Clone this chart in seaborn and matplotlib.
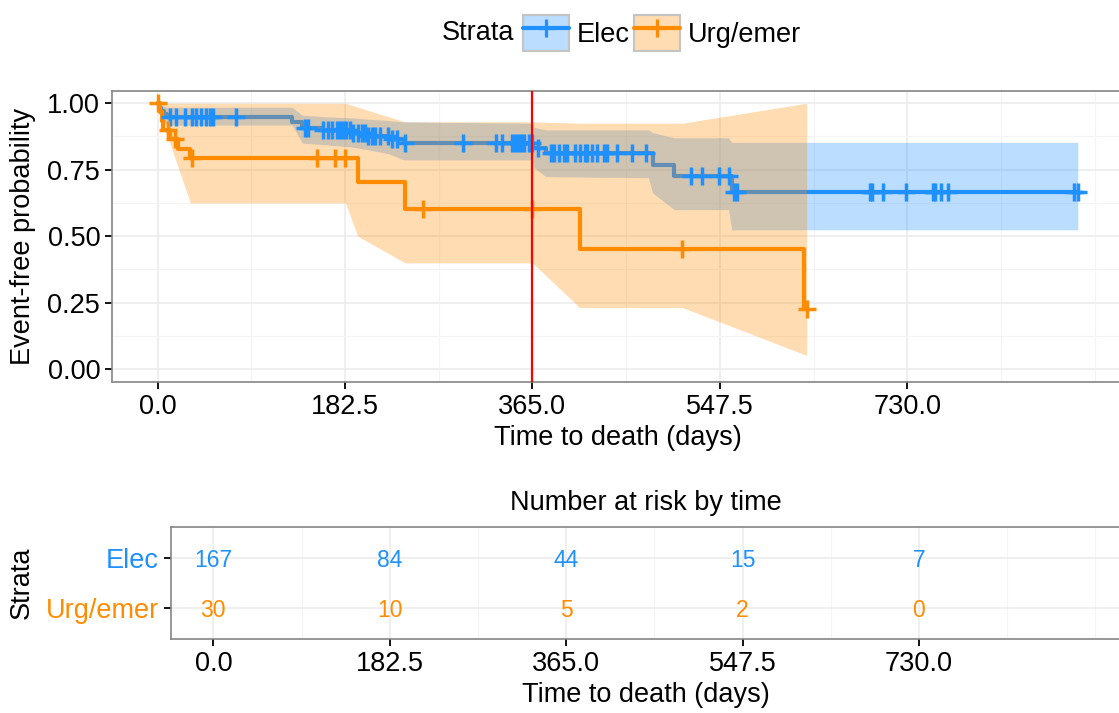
import numpy as np
import pandas as pd
import matplotlib
matplotlib.use("Agg")
import matplotlib.pyplot as plt
import seaborn as sns
from matplotlib.patches import Patch
from matplotlib.lines import Line2D
from matplotlib.colors import to_rgba
from matplotlib.ticker import FixedLocator

# ---------------------------------------------------------------- data
strata = ["Elec", "Urg/emer"]
colors = {"Elec": "#1E90FF", "Urg/emer": "#FF8C00"}

# Kaplan-Meier step estimates (days, event-free probability)
elec_time = [0, 1, 3, 6, 9, 131, 141, 160, 190, 205, 225, 240, 366, 378, 482, 503, 559, 896]
elec_surv = [1.0, 0.982, 0.970, 0.958, 0.948, 0.930, 0.906, 0.898, 0.888, 0.878, 0.866, 0.852,
             0.832, 0.812, 0.768, 0.727, 0.667, 0.667]
urg_time = [0, 2, 4, 5, 12, 20, 32, 195, 241, 411, 629, 632]
urg_surv = [1.0, 0.967, 0.933, 0.900, 0.865, 0.829, 0.793, 0.705, 0.604, 0.453, 0.227, 0.227]

# censored observations (days)
elec_cens = [12, 18, 27, 34, 37, 42, 47, 51, 54, 76,
             144, 147, 161, 166, 170, 175, 178, 181, 184, 187, 190, 195, 199, 202, 205,
             209, 212, 217, 224, 228, 233, 241, 297,
             330, 335, 345, 348, 351, 354, 357, 362, 365, 370, 383, 386, 391, 396, 399,
             406, 411, 416, 418, 423, 428, 435, 438, 447, 462, 476,
             519, 530, 547, 556, 561, 564, 694, 696, 706, 729, 755, 757, 763, 770, 892, 896]
urg_cens = [0, 10, 17, 34, 155, 173, 183, 258, 365, 511, 632]

# 95% confidence bands
elec_ci_time = [0, 1, 3, 6, 9, 131, 141, 160, 190, 205, 225, 240, 365, 366, 378, 478,
                482, 503, 556, 559, 896]
elec_ci_upper = [1.0, 1.0, 0.995, 0.99, 0.985, 0.985, 0.955, 0.95, 0.945, 0.94, 0.935, 0.93,
                 0.925, 0.91, 0.90, 0.90, 0.89, 0.87, 0.87, 0.853, 0.853]
elec_ci_lower = [1.0, 0.965, 0.945, 0.93, 0.918, 0.918, 0.85, 0.845, 0.835, 0.825, 0.81, 0.787,
                 0.787, 0.76, 0.724, 0.72, 0.663, 0.60, 0.60, 0.524, 0.524]
urg_ci_time = [0, 2, 4, 5, 12, 20, 32, 183, 195, 241, 365, 411, 511, 632]
urg_ci_upper = [1.0, 1.0, 1.0, 1.0, 1.0, 1.0, 1.0, 1.0, 0.985, 0.93, 0.93, 0.925, 0.925, 1.0]
urg_ci_lower = [1.0, 0.96, 0.93, 0.91, 0.85, 0.76, 0.625, 0.625, 0.50, 0.40, 0.40, 0.232,
                0.232, 0.052]

# number at risk table
risk_times = [0.0, 182.5, 365.0, 547.5, 730.0]
risk_elec = [167, 84, 44, 15, 7]
risk_urg = [30, 10, 5, 2, 0]

landmark_day = 365.0
x_limits = (-44.3, 940.0)

# ---------------------------------------------------------------- frames
curves = {
    "Elec": pd.DataFrame({"time": elec_time, "surv": elec_surv}),
    "Urg/emer": pd.DataFrame({"time": urg_time, "surv": urg_surv}),
}
bands = {
    "Elec": pd.DataFrame({"time": elec_ci_time, "lower": elec_ci_lower, "upper": elec_ci_upper}),
    "Urg/emer": pd.DataFrame({"time": urg_ci_time, "lower": urg_ci_lower, "upper": urg_ci_upper}),
}
censored = {"Elec": elec_cens, "Urg/emer": urg_cens}


def step_value(curve, t):
    idx = np.searchsorted(curve["time"].to_numpy(), t, side="right") - 1
    return curve["surv"].to_numpy()[idx]


cens_df = pd.concat([
    pd.DataFrame({"time": censored[s],
                  "surv": [step_value(curves[s], t) for t in censored[s]],
                  "strata": s})
    for s in strata
], ignore_index=True)

risk_df = pd.DataFrame({
    "time": risk_times * 2,
    "n": risk_elec + risk_urg,
    "strata": ["Elec"] * len(risk_times) + ["Urg/emer"] * len(risk_times),
})

# ---------------------------------------------------------------- style
sns.set_theme(style="ticks")
plt.rcParams["font.family"] = ["Liberation Sans", "DejaVu Sans"]
plt.rcParams.update({"text.color": "black", "axes.labelcolor": "black",
                     "xtick.color": "black", "ytick.color": "black"})
FS = 19.5

W, H = 1119, 713
fig = plt.figure(figsize=(W / 100, H / 100), dpi=100)


def rect(left, top, right, bottom):
    return [left / W, 1 - bottom / H, (right - left) / W, (bottom - top) / H]


ax = fig.add_axes(rect(112, 91, 1123, 382))
tab = fig.add_axes(rect(170.5, 527, 1122, 639))

major_x = [0.0, 182.5, 365.0, 547.5, 730.0]
minor_x = [91.25, 273.75, 456.25, 638.75, 821.25, 912.5]


def style_panel(a):
    a.set_facecolor("white")
    for sp in a.spines.values():
        sp.set_visible(True)
        sp.set_color("#858585")
        sp.set_linewidth(1.2)
    a.xaxis.set_major_locator(FixedLocator(major_x))
    a.xaxis.set_minor_locator(FixedLocator(minor_x))
    a.set_xticklabels([f"{v:.1f}" for v in major_x])
    a.grid(which="major", color="#EBEBEB", linewidth=1.1)
    a.grid(which="minor", color="#F4F4F4", linewidth=0.8)
    a.set_axisbelow(True)
    a.tick_params(which="major", length=5, width=1.3, color="black", labelsize=FS,
                  labelcolor="black", direction="out", pad=3.5, bottom=True, left=True)
    a.tick_params(which="minor", length=0, bottom=False, left=False)
    a.set_xlim(*x_limits)


# ---------------------------------------------------------------- survival panel
z = {"Elec": 1, "Urg/emer": 3}
for s in strata:
    b = bands[s]
    ax.fill_between(b["time"], b["lower"], b["upper"], color=colors[s], alpha=0.3,
                    linewidth=0, zorder=z[s])
    sns.lineplot(data=curves[s], x="time", y="surv", ax=ax, color=colors[s],
                 estimator=None, sort=False, drawstyle="steps-post", linewidth=3.0,
                 zorder=z[s] + 1)

for i, s in enumerate(strata):
    sns.scatterplot(data=cens_df[cens_df["strata"] == s], x="time", y="surv", ax=ax,
                    color=colors[s], marker="+", s=175, linewidth=2.5, zorder=5 + i,
                    legend=False)

ax.axvline(landmark_day, color="red", linewidth=1.6, zorder=8)

style_panel(ax)
ax.set_ylim(-0.048, 1.046)
ax.yaxis.set_major_locator(FixedLocator([0, 0.25, 0.5, 0.75, 1.0]))
ax.yaxis.set_minor_locator(FixedLocator([0.125, 0.375, 0.625, 0.875]))
ax.set_yticklabels(["0.00", "0.25", "0.50", "0.75", "1.00"])
ax.set_xlabel("Time to death (days)", fontsize=FS, labelpad=4)
ax.set_ylabel("Event-free probability", fontsize=FS, labelpad=8)

# legend across the top
handles = [
    (Patch(facecolor=to_rgba(colors[s], 0.3), edgecolor="#c4c4c4", linewidth=1.5),
     Line2D([], [], color=colors[s], linewidth=3.0, marker="+", markersize=13,
            markeredgewidth=2.3))
    for s in strata
]
fig.legend(handles, strata, loc="center left", bbox_to_anchor=(523 / W, 1 - 33 / H),
           ncol=2, frameon=False, fontsize=FS, borderpad=0, borderaxespad=0,
           handlelength=1.7, handleheight=1.7, handletextpad=0.3, columnspacing=0.14)
fig.text(442 / W, 1 - 33 / H, "Strata", fontsize=FS, ha="left", va="center")

# ---------------------------------------------------------------- risk table
row_pos = {"Urg/emer": 1, "Elec": 2}
for _, r in risk_df.iterrows():
    tab.text(r["time"], row_pos[r["strata"]], f"{r['n']}", ha="center",
             va="center_baseline", fontsize=16.5, color=colors[r["strata"]])

style_panel(tab)
tab.set_ylim(0.4, 2.6)
tab.yaxis.set_major_locator(FixedLocator([1, 2]))
tab.set_yticklabels(["Urg/emer", "Elec"])
for lbl in tab.get_yticklabels():
    lbl.set_color(colors[lbl.get_text()])
tab.set_xlabel("Time to death (days)", fontsize=FS, labelpad=4)
tab.set_ylabel("Strata", fontsize=FS, labelpad=8)
tab.set_title("Number at risk by time", fontsize=FS, pad=12)

fig.savefig("out.png", dpi=100)
